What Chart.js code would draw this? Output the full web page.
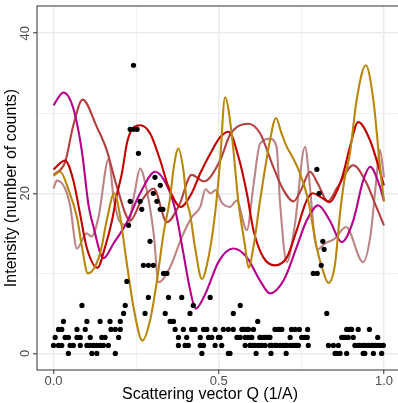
<!DOCTYPE html>
<html>
<head>
<meta charset="utf-8">
<script src="https://cdn.jsdelivr.net/npm/chart.js@4.4.1/dist/chart.umd.min.js"></script>
<style>
  html, body { margin: 0; padding: 0; background: #fff; overflow: hidden; }
  #wrap { position: relative; width: 398px; height: 403px; overflow: hidden; }
  #chart { position: absolute; left: 0; top: 0; }
</style>
</head>
<body>
<div id="wrap"><canvas id="chart" width="402" height="403"></canvas></div>
<script>
// measured counts (black dots)
const pointQ = [
  0.000, 0.005, 0.015, 0.015, 0.025, 0.025, 0.030, 0.035, 0.045, 0.045, 0.050, 0.060, 0.071, 0.071, 0.081, 0.081,
  0.086, 0.096, 0.101, 0.101, 0.111, 0.111, 0.116, 0.121, 0.131, 0.131, 0.141, 0.141, 0.146, 0.151, 0.156, 0.166,
  0.171, 0.174, 0.187, 0.187, 0.197, 0.202, 0.202, 0.212, 0.217, 0.222, 0.227, 0.232, 0.232, 0.242, 0.243, 0.253,
  0.257, 0.262, 0.267, 0.272, 0.277, 0.287, 0.287, 0.292, 0.302, 0.302, 0.307, 0.313, 0.323, 0.323, 0.331, 0.333,
  0.338, 0.343, 0.348, 0.353, 0.363, 0.368, 0.378, 0.378, 0.388, 0.393, 0.398, 0.403, 0.408, 0.413, 0.418, 0.423,
  0.428, 0.444, 0.444, 0.449, 0.454, 0.454, 0.464, 0.469, 0.474, 0.479, 0.489, 0.489, 0.499,
  0.504, 0.509, 0.514, 0.529, 0.529, 0.534, 0.544, 0.544, 0.555, 0.565, 0.565, 0.570, 0.575, 0.580, 0.580, 0.585,
  0.590, 0.590, 0.595, 0.595, 0.600, 0.605, 0.605, 0.610, 0.613, 0.618, 0.620, 0.625, 0.625, 0.630, 0.635, 0.640,
  0.640, 0.645, 0.650, 0.655, 0.655, 0.658, 0.660, 0.670, 0.670, 0.675, 0.680, 0.685, 0.686, 0.691, 0.695, 0.701,
  0.704, 0.705, 0.716, 0.716, 0.720, 0.725, 0.731, 0.731, 0.735, 0.741, 0.744, 0.751, 0.760, 0.768, 0.769, 0.771,
  0.786, 0.797, 0.798, 0.804, 0.810, 0.815, 0.819, 0.827, 0.832, 0.847, 0.852, 0.857, 0.862, 0.867, 0.872, 0.877,
  0.882, 0.887, 0.887, 0.892, 0.896, 0.899, 0.902, 0.907, 0.912, 0.922, 0.922, 0.927, 0.937, 0.937, 0.942, 0.943,
  0.953, 0.956, 0.962, 0.968, 0.968, 0.975, 0.981, 0.983, 0.990, 0.993, 0.998
];
const pointCounts = [
  1, 2, 1, 3, 1, 3, 4, 2, 0, 2, 1, 1, 2, 3, 1, 2,
  6, 3, 1, 4, 1, 2, 0, 1, 0, 1, 1, 4, 2, 1, 2, 1,
  4, 3, 3, 0, 2, 3, 4, 5, 6, 9, 16, 19, 28, 36, 28, 28,
  25, 19, 18, 11, 5, 7, 11, 14, 11, 20, 22, 19, 21, 18, 18, 10,
  5, 10, 7, 4, 4, 3, 1, 2, 7, 3, 1, 2, 1, 5, 3, 6,
  3, 1, 2, 0, 1, 3, 3, 2, 7, 2, 1, 3, 2,
  2, 1, 3, 3, 0, 0, 3, 5, 2, 2, 6, 3, 3, 1, 2, 3,
  3, 2, 1, 1, 2, 3, 1, 1, 0, 4, 1, 2, 2, 1, 2, 2,
  1, 2, 2, 2, 1, 0, 1, 1, 3, 1, 3, 3, 1, 3, 1, 1,
  0, 1, 2, 1, 3, 1, 3, 1, 1, 1, 3, 2, 2, 2, 3, 1,
  10, 23, 10, 20, 11, 14, 13, 5, 1, 1, 0, 0, 1, 0, 2, 2,
  2, 3, 0, 2, 3, 3, 3, 2, 1, 3, 1, 1, 1, 0, 0, 1,
  1, 3, 1, 1, 0, 1, 2, 1, 1, 0, 1
];

// fitted curves
const goldQ = [0, 0.02, 0.045, 0.071, 0.086, 0.104, 0.141, 0.161, 0.184, 0.2, 0.222, 0.242, 0.269, 0.292, 0.313, 0.333, 0.353, 0.363, 0.378, 0.393, 0.403, 0.413, 0.428, 0.449, 0.469, 0.489, 0.504, 0.519, 0.539, 0.559, 0.58, 0.59, 0.605, 0.625, 0.655, 0.673, 0.69, 0.706, 0.72, 0.746, 0.771, 0.796, 0.812, 0.832, 0.852, 0.867, 0.88, 0.897, 0.917, 0.945, 0.968, 0.988, 1.0];
const goldY = [22.2, 22.7, 20.5, 17, 13.3, 10, 12.5, 16.6, 20, 17.5, 11.2, 5.8, 1.6, 4.1, 9.1, 15, 19.5, 23, 25.6, 22.9, 19.1, 17.5, 13.3, 9.3, 12, 17.5, 24, 32, 27.5, 19.1, 13.3, 10.7, 13.3, 19.1, 26.6, 29.4, 27.5, 25.8, 24.75, 22.5, 19.1, 13.3, 10.8, 8.8, 11.2, 17.5, 21.6, 25, 31.6, 36, 31.6, 23.3, 19];

const redQ = [0, 0.035, 0.06, 0.08, 0.1, 0.133, 0.156, 0.177, 0.19, 0.207, 0.224, 0.262, 0.292, 0.323, 0.348, 0.385, 0.418, 0.444, 0.475, 0.504, 0.53, 0.56, 0.585, 0.605, 0.635, 0.67, 0.706, 0.736, 0.766, 0.785, 0.81, 0.836, 0.86, 0.877, 0.897, 0.922, 0.958, 1.0];
const redY = [23, 24.1, 21.6, 17.5, 13.3, 10.7, 13.3, 16.6, 19.5, 22.5, 26.6, 28.5, 27.5, 24.1, 20.8, 18.3, 20, 22.5, 25, 27, 27.7, 24.5, 20, 15.4, 12, 11, 12, 15.4, 19.1, 20, 19.5, 18.9, 20.5, 22.5, 25.8, 28.9, 26.6, 21];

const magentaQ = [0, 0.03, 0.06, 0.086, 0.106, 0.121, 0.151, 0.181, 0.222, 0.262, 0.308, 0.343, 0.368, 0.393, 0.413, 0.43, 0.46, 0.5, 0.544, 0.585, 0.625, 0.655, 0.696, 0.736, 0.766, 0.801, 0.836, 0.872, 0.907, 0.937, 0.958, 0.988, 1.0];
const magentaY = [31, 32.6, 30.6, 25.2, 18.5, 15.8, 11.9, 13.7, 16.4, 20, 22.7, 21, 18, 12.5, 8, 5.6, 7.5, 11.5, 13.1, 12, 9.1, 7.5, 9.1, 13.3, 16.6, 18.5, 16.6, 13.9, 16.6, 21.6, 23.3, 20.8, 19];

const brickQ = [0, 0.035, 0.06, 0.088, 0.131, 0.161, 0.192, 0.232, 0.265, 0.303, 0.343, 0.38, 0.418, 0.455, 0.504, 0.534, 0.59, 0.625, 0.665, 0.696, 0.726, 0.75, 0.776, 0.8, 0.83, 0.86, 0.907, 0.948, 0.975, 1.0];
const brickY = [22.3, 23.9, 28.5, 31.7, 28.3, 25.4, 20.8, 16.6, 19, 20.6, 16.4, 18.5, 22.3, 21.5, 24.1, 27.3, 28.7, 27.5, 23.3, 20.4, 19, 20.5, 22.7, 21.2, 19, 20.8, 23.5, 21.2, 18.5, 16];

const rosyQ = [0, 0.01, 0.035, 0.05, 0.071, 0.1, 0.115, 0.136, 0.167, 0.181, 0.2, 0.225, 0.245, 0.262, 0.282, 0.303, 0.318, 0.353, 0.388, 0.418, 0.444, 0.46, 0.475, 0.49, 0.51, 0.534, 0.554, 0.585, 0.605, 0.625, 0.655, 0.675, 0.685, 0.706, 0.73, 0.761, 0.776, 0.79, 0.8, 0.82, 0.85, 0.885, 0.937, 0.96, 0.975, 0.988, 1.0];
const rosyY = [20.6, 21.6, 20.6, 18.5, 13.1, 15, 14.6, 17, 24.3, 19.75, 16.5, 16, 20, 23.1, 20.4, 15, 8.9, 10.8, 14.5, 17, 18.3, 20.5, 20, 20.4, 18.8, 18.3, 19.1, 15.4, 21, 26.2, 26.8, 25.8, 19.1, 11.4, 16, 25.8, 20.8, 14.5, 13, 13.7, 14.3, 15.8, 11.4, 15, 21, 25.4, 22];

const xTicks = [0, 0.25, 0.5, 0.75, 1];
const yTicks = [0, 10, 20, 30, 40];
const yLabelTicks = [0, 20, 40];

const FONT = "'Liberation Sans', Arial, sans-serif";

function pairs(qs, ys) {
  return qs.map((q, i) => ({ x: q, y: ys[i] }));
}

function curve(qs, ys, color) {
  return {
    data: pairs(qs, ys),
    showLine: true,
    borderColor: color,
    borderWidth: 2.1,
    pointRadius: 0,
    cubicInterpolationMode: "monotone",
    fill: false
  };
}

const isMajorX = (v) => Math.abs(v * 2 - Math.round(v * 2)) < 1e-9;
const isMajorY = (v) => v % 20 === 0;

// y tick labels are vertical; the x title sits a bit left of the panel centre as in the source
const extraText = {
  id: "extraText",
  afterDraw(chart) {
    const { ctx, chartArea, scales } = chart;
    ctx.save();
    ctx.fillStyle = "#4D4D4D";
    ctx.font = "13px " + FONT;
    ctx.textAlign = "center";
    ctx.textBaseline = "middle";
    yLabelTicks.forEach((v) => {
      ctx.save();
      ctx.translate(25, scales.y.getPixelForValue(v));
      ctx.rotate(-Math.PI / 2);
      ctx.fillText(String(v), 0, 0);
      ctx.restore();
    });
    ctx.fillStyle = "#000";
    ctx.font = "16px " + FONT;
    ctx.fillText("Scattering vector Q (1/A)", 210, 395);
    ctx.strokeStyle = "#333333";
    ctx.lineWidth = 1;
    ctx.strokeRect(chartArea.left, chartArea.top, chartArea.right - chartArea.left, chartArea.bottom - chartArea.top);
    ctx.restore();
  }
};

new Chart(document.getElementById("chart"), {
  type: "scatter",
  data: {
    datasets: [
      {
        data: pairs(pointQ, pointCounts),
        backgroundColor: "#000",
        borderWidth: 0,
        pointRadius: 2.6
      },
      curve(goldQ, goldY, "#B8860B"),
      curve(redQ, redY, "#C00000"),
      curve(magentaQ, magentaY, "#B5008A"),
      curve(brickQ, brickY, "#B3403F"),
      curve(rosyQ, rosyY, "#BC8585")
    ]
  },
  options: {
    responsive: false,
    devicePixelRatio: 1,
    animation: false,
    layout: { autoPadding: false, padding: { top: 6, right: 1.5, left: 0, bottom: 0 } },
    plugins: { legend: { display: false }, tooltip: { enabled: false } },
    scales: {
      x: {
        type: "linear",
        min: -0.05,
        max: 1.05,
        afterBuildTicks: (s) => { s.ticks = xTicks.map((v) => ({ value: v })); },
        afterFit: (s) => { s.height = 33; },
        border: { display: false },
        grid: {
          color: "#EBEBEB",
          lineWidth: (c) => (isMajorX(c.tick.value) ? 1.5 : 0.8),
          tickLength: 4,
          tickColor: (c) => (isMajorX(c.tick.value) ? "#333333" : "rgba(0,0,0,0)"),
          tickWidth: 1
        },
        ticks: {
          padding: 0,
          color: "#4D4D4D",
          font: { family: FONT, size: 13 },
          maxRotation: 0,
          callback: (v) => (isMajorX(v) ? Number(v).toFixed(1) : "")
        },
        title: { display: false }
      },
      y: {
        type: "linear",
        min: -2.07,
        max: 43.4,
        afterBuildTicks: (s) => { s.ticks = yTicks.map((v) => ({ value: v })); },
        afterFit: (s) => { s.width = 37; },
        border: { display: false },
        grid: {
          color: "#EBEBEB",
          lineWidth: (c) => (isMajorY(c.tick.value) ? 1.5 : 0.8),
          tickLength: 4,
          tickColor: (c) => (isMajorY(c.tick.value) ? "#333333" : "rgba(0,0,0,0)"),
          tickWidth: 1
        },
        ticks: { display: false },
        title: {
          display: true,
          text: "Intensity (number of counts)",
          color: "#000",
          font: { family: FONT, size: 16, lineHeight: 1 },
          padding: { top: 4, bottom: 0 }
        }
      }
    }
  },
  plugins: [extraText]
});
</script>
</body>
</html>
